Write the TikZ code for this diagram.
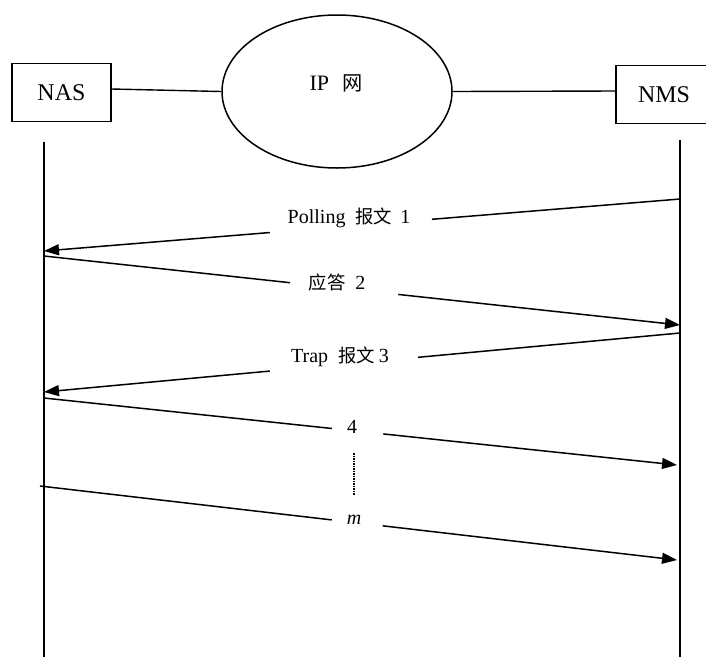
\documentclass[tikz,border=0pt]{standalone}
\usepackage{fontspec}
\setmainfont{Liberation Serif}
\newfontfamily\cjk[Scale=0.92]{Noto Sans CJK SC}
\usetikzlibrary{arrows.meta,calc,shapes.geometric}

\tikzset{
  entity/.style={draw, line width=1.4pt, minimum width=99pt, minimum height=58pt,
                 inner sep=0pt, font=\fontsize{24}{24}\selectfont},
  net/.style={draw, ellipse, line width=1.5pt, minimum width=230pt, minimum height=153pt,
              inner sep=0pt},
  link/.style={line width=1.4pt},
  lifeline/.style={line width=1.8pt},
  msg/.style={line width=1.5pt, -{Triangle[length=15pt,width=11pt]}},
  msgtext/.style={inner sep=0pt, font=\fontsize{20}{20}\selectfont},
}

\begin{document}
\begin{tikzpicture}[x=1pt,y=-1pt]
  \clip (0,0) rectangle (706,657);

  % network elements
  \node[entity] (nas) at (61.5,92.5) {NAS};
  \node[entity, minimum width=96pt] (nms) at (664,94.5) {NMS};
  \node[net] (ip) at (337,91.5) {};
  \node[inner sep=0pt, font=\fontsize{22}{22}\selectfont] (iplabel) at (336,83) {IP\hspace{0.6em}{\cjk 网}};

  \draw[link] (nas.east |- 0,89) -- (ip.west);
  \draw[link] (ip.east) -- (nms.west |- 0,91);

  % lifelines
  \coordinate (nasT) at (44,142);
  \coordinate (nasB) at (44,657);
  \coordinate (nmsT) at (680,140);
  \coordinate (nmsB) at (680,657);
  \draw[lifeline] (nasT) -- (nasB);
  \draw[lifeline] (nmsT) -- (nmsB);

  % message end points
  \coordinate (m1s) at (680,199);  \coordinate (m1e) at (44,251);
  \coordinate (m2s) at (44,256);   \coordinate (m2e) at (680,325);
  \coordinate (m3s) at (680,333);  \coordinate (m3e) at (44,392);
  \coordinate (m4s) at (44,398);   \coordinate (m4e) at (677,465);
  \coordinate (m5s) at (40,486);   \coordinate (m5e) at (677,560);

  % messages, each broken where its label sits
  \draw[msg] (m1s) -- ($(m1s)!0.39!(m1e)$) ($(m1s)!0.645!(m1e)$) -- (m1e);
  \draw[msg] (m2s) -- ($(m2s)!0.387!(m2e)$) ($(m2s)!0.557!(m2e)$) -- (m2e);
  \draw[msg] (m3s) -- ($(m3s)!0.412!(m3e)$) ($(m3s)!0.645!(m3e)$) -- (m3e);
  \draw[msg] (m4s) -- ($(m4s)!0.455!(m4e)$) ($(m4s)!0.536!(m4e)$) -- (m4e);
  \draw[msg] (m5s) -- ($(m5s)!0.458!(m5e)$) ($(m5s)!0.538!(m5e)$) -- (m5e);

  % labels
  \node[msgtext] (l1) at (349,218) {Polling\hspace{0.5em}{\cjk 报文}\hspace{0.4em}1};
  \node[msgtext] (l2) at (337,282) {{\cjk 应答}\hspace{0.5em}2};
  \node[msgtext] (l3) at (340,357) {Trap\hspace{0.5em}{\cjk 报文}\hspace{0.2em}3};
  \node[msgtext] (l4) at (352,427) {4};
  \node[msgtext] (l5) at (354,520) {\itshape m};

  % omitted messages
  \coordinate (dotT) at (354,453);
  \coordinate (dotB) at (354,495);
  \draw[line width=1.3pt, dash pattern=on 1.5pt off 1pt] (dotT) -- (dotB);
\end{tikzpicture}
\end{document}
